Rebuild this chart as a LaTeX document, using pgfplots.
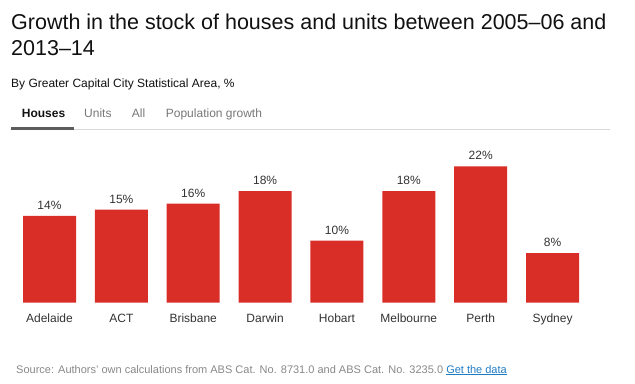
\documentclass[border=0pt]{standalone}
\usepackage{pgfplots}
\pgfplotsset{compat=1.18}
\usepackage{fontspec}
\setmainfont{Liberation Sans}
\definecolor{barred}{HTML}{D92D27}
\definecolor{txt}{HTML}{111111}
\definecolor{lbl}{HTML}{333333}
\definecolor{tabgray}{HTML}{777777}
\definecolor{srcgray}{HTML}{888888}
\definecolor{linkblue}{HTML}{1F7BC4}
\begin{document}
\begin{tikzpicture}[x=1bp,y=1bp]
\path[use as bounding box] (0,0) rectangle (635,383);
% title
\node[anchor=base west, inner sep=0, text=txt] at (11,353.5) {\fontsize{21.5bp}{26bp}\selectfont Growth in the stock of houses and units between 2005–06 and};
\node[anchor=base west, inner sep=0, text=txt] at (11,327.3) {\fontsize{21.5bp}{26bp}\selectfont 2013–14};
\node[anchor=base west, inner sep=0, text=txt] at (11,296) {\fontsize{12bp}{15bp}\selectfont By Greater Capital City Statistical Area, \%};
% tabs
\node[anchor=base west, inner sep=0, text=txt] at (21.7,265.5) {\fontsize{12bp}{15bp}\selectfont\bfseries Houses};
\node[anchor=base west, inner sep=0, text=tabgray] at (84,265.5) {\fontsize{12bp}{15bp}\selectfont Units};
\node[anchor=base west, inner sep=0, text=tabgray] at (131.7,265.5) {\fontsize{12bp}{15bp}\selectfont All};
\node[anchor=base west, inner sep=0, text=tabgray] at (165.7,265.5) {\fontsize{12bp}{15bp}\selectfont Population growth};
\fill[black!15] (11,253) rectangle (610,254);
\fill[lbl!80] (11,253) rectangle (74,255.7);
% source
\node[anchor=base west, inner sep=0, text=srcgray] at (16,10) {\fontsize{11bp}{13bp}\selectfont Source: Authors’ own calculations from ABS Cat. No. 8731.0 and ABS Cat. No. 3235.0 \textcolor{linkblue}{\underline{Get the data}}};
\begin{axis}[
  at={(13.57bp,80.3bp)}, anchor=south west,
  scale only axis, width=574.9bp, height=148.8bp,
  xmin=-0.5, xmax=7.5, ymin=0, ymax=24,
  axis line style={draw=none}, tick style={draw=none},
  ytick=\empty,
  ybar, bar width=53bp,
  xtick=data,
  xticklabels={Adelaide,ACT,Brisbane,Darwin,Hobart,Melbourne,Perth,Sydney},
  x tick label style={font=\fontsize{12bp}{15bp}\selectfont, text=lbl, anchor=base, inner sep=0, yshift=-15.6bp},
  nodes near coords={\pgfmathprintnumber[fixed,precision=0,assume math mode=true]{\pgfplotspointmeta}\%},
  every node near coord/.append style={font=\fontsize{12bp}{14bp}\selectfont, text=lbl, anchor=base, inner sep=0, yshift=6.4bp},
]
\addplot[fill=barred, draw=none] coordinates {(0,14) (1,15) (2,16) (3,18) (4,10) (5,18) (6,22) (7,8)};
\end{axis}
\end{tikzpicture}
\end{document}
